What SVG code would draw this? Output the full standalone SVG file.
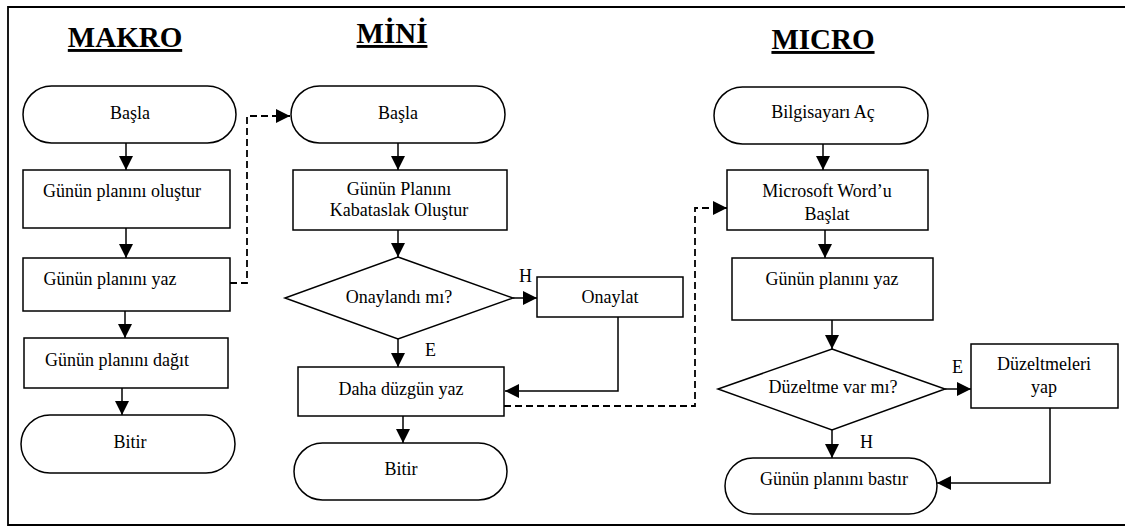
<svg xmlns="http://www.w3.org/2000/svg" width="1125" height="527" viewBox="0 0 1125 527">
<style>
.s{fill:#fff;stroke:#000;stroke-width:1.5}
.t{font-family:"Liberation Serif","Times New Roman",serif;font-size:18px;fill:#000;text-anchor:middle}
.l{font-family:"Liberation Serif","Times New Roman",serif;font-size:18px;fill:#000}
.h{font-family:"Liberation Serif","Times New Roman",serif;font-size:29px;font-weight:bold;fill:#000;text-anchor:middle;text-decoration:underline}
.c{fill:none;stroke:#000;stroke-width:1.5}
.d{fill:none;stroke:#000;stroke-width:1.8;stroke-dasharray:7 4}
</style>
<defs>
<marker id="a" markerUnits="userSpaceOnUse" markerWidth="15" markerHeight="14" refX="14" refY="7" orient="auto">
<path d="M0,0 L14,7 L0,14 Z" fill="#000"/>
</marker>
</defs>
<rect width="1125" height="527" fill="#fff"/>
<path d="M1130,7 H8 V525 H1130" fill="none" stroke="#000" stroke-width="1.8"/>
<g id="titles">
<text class="h" x="125" y="47">MAKRO</text>
<text class="h" x="392" y="43">MİNİ</text>
<text class="h" x="823" y="49">MICRO</text>
</g>
<g id="connectors">
<line class="c" x1="126" y1="143" x2="126" y2="170" marker-end="url(#a)"/>
<line class="c" x1="126" y1="228" x2="126" y2="258" marker-end="url(#a)"/>
<line class="c" x1="125" y1="311" x2="125" y2="338" marker-end="url(#a)"/>
<line class="c" x1="122" y1="388" x2="122" y2="415" marker-end="url(#a)"/>
<path class="d" d="M230,283 H247 V116 H290" marker-end="url(#a)"/>
<line class="c" x1="398" y1="143" x2="398" y2="170" marker-end="url(#a)"/>
<line class="c" x1="398" y1="230" x2="398" y2="257" marker-end="url(#a)"/>
<line class="c" x1="513" y1="298" x2="537" y2="298" marker-end="url(#a)"/>
<line class="c" x1="398" y1="339" x2="398" y2="367" marker-end="url(#a)"/>
<path class="c" d="M618,317 V391 H505" marker-end="url(#a)"/>
<line class="c" x1="403" y1="416" x2="403" y2="443" marker-end="url(#a)"/>
<path class="d" d="M504,406 H695 V208 H727" marker-end="url(#a)"/>
<line class="c" x1="823" y1="144" x2="823" y2="170" marker-end="url(#a)"/>
<line class="c" x1="825" y1="230" x2="825" y2="258" marker-end="url(#a)"/>
<line class="c" x1="832" y1="320" x2="832" y2="349" marker-end="url(#a)"/>
<line class="c" x1="945" y1="389" x2="971" y2="389" marker-end="url(#a)"/>
<line class="c" x1="832" y1="430" x2="832" y2="458" marker-end="url(#a)"/>
<path class="c" d="M1050,408 V483 H937" marker-end="url(#a)"/>
<text class="l" x="519" y="282">H</text>
<text class="l" x="425" y="356">E</text>
<text class="l" x="952" y="373">E</text>
<text class="l" x="860" y="448">H</text>
</g>
<g id="makro-basla"><rect class="s" x="23" y="86" width="213" height="57" rx="28.5"/><text class="t" x="130" y="119">Başla</text></g>
<g id="makro-olustur"><rect class="s" x="23" y="170" width="207" height="58"/><text class="t" x="122" y="197">Günün planını oluştur</text></g>
<g id="makro-yaz"><rect class="s" x="23" y="258" width="207" height="53"/><text class="t" x="110" y="285">Günün planını yaz</text></g>
<g id="makro-dagit"><rect class="s" x="24" y="338" width="204" height="50"/><text class="t" x="117" y="366">Günün planını dağıt</text></g>
<g id="makro-bitir"><rect class="s" x="21" y="415" width="214" height="58" rx="29"/><text class="t" x="130" y="448">Bitir</text></g>
<g id="mini-basla"><rect class="s" x="291" y="86" width="214" height="57" rx="28.5"/><text class="t" x="398" y="119">Başla</text></g>
<g id="mini-kabataslak"><rect class="s" x="293" y="170" width="214" height="60"/><text class="t" x="399" y="195">Günün Planını</text><text class="t" x="399" y="216">Kabataslak Oluştur</text></g>
<g id="mini-onaylandi"><polygon class="s" points="398,257 513,298 398,339 285,298"/><text class="t" x="399" y="303">Onaylandı mı?</text></g>
<g id="mini-onaylat"><rect class="s" x="537" y="277" width="146" height="40"/><text class="t" x="610" y="303">Onaylat</text></g>
<g id="mini-duzgun"><rect class="s" x="298" y="367" width="206" height="49"/><text class="t" x="401" y="395">Daha düzgün yaz</text></g>
<g id="mini-bitir"><rect class="s" x="294" y="443" width="213" height="57" rx="28.5"/><text class="t" x="401" y="475">Bitir</text></g>
<g id="micro-bilgisayar"><rect class="s" x="714" y="87" width="214" height="57" rx="28.5"/><text class="t" x="823" y="118">Bilgisayarı Aç</text></g>
<g id="micro-word"><rect class="s" x="727" y="170" width="201" height="60"/><text class="t" x="827" y="197">Microsoft Word’u</text><text class="t" x="827" y="220">Başlat</text></g>
<g id="micro-yaz"><rect class="s" x="732" y="258" width="201" height="62"/><text class="t" x="832" y="285">Günün planını yaz</text></g>
<g id="micro-duzeltme"><polygon class="s" points="832,349 945,389 832,430 718,389"/><text class="t" x="833" y="393">Düzeltme var mı?</text></g>
<g id="micro-yap"><rect class="s" x="971" y="344" width="147" height="64"/><text class="t" x="1044" y="370">Düzeltmeleri</text><text class="t" x="1044" y="393">yap</text></g>
<g id="micro-bastir"><rect class="s" x="725" y="458" width="212" height="56" rx="28"/><text class="t" x="834" y="485">Günün planını bastır</text></g>
</svg>
